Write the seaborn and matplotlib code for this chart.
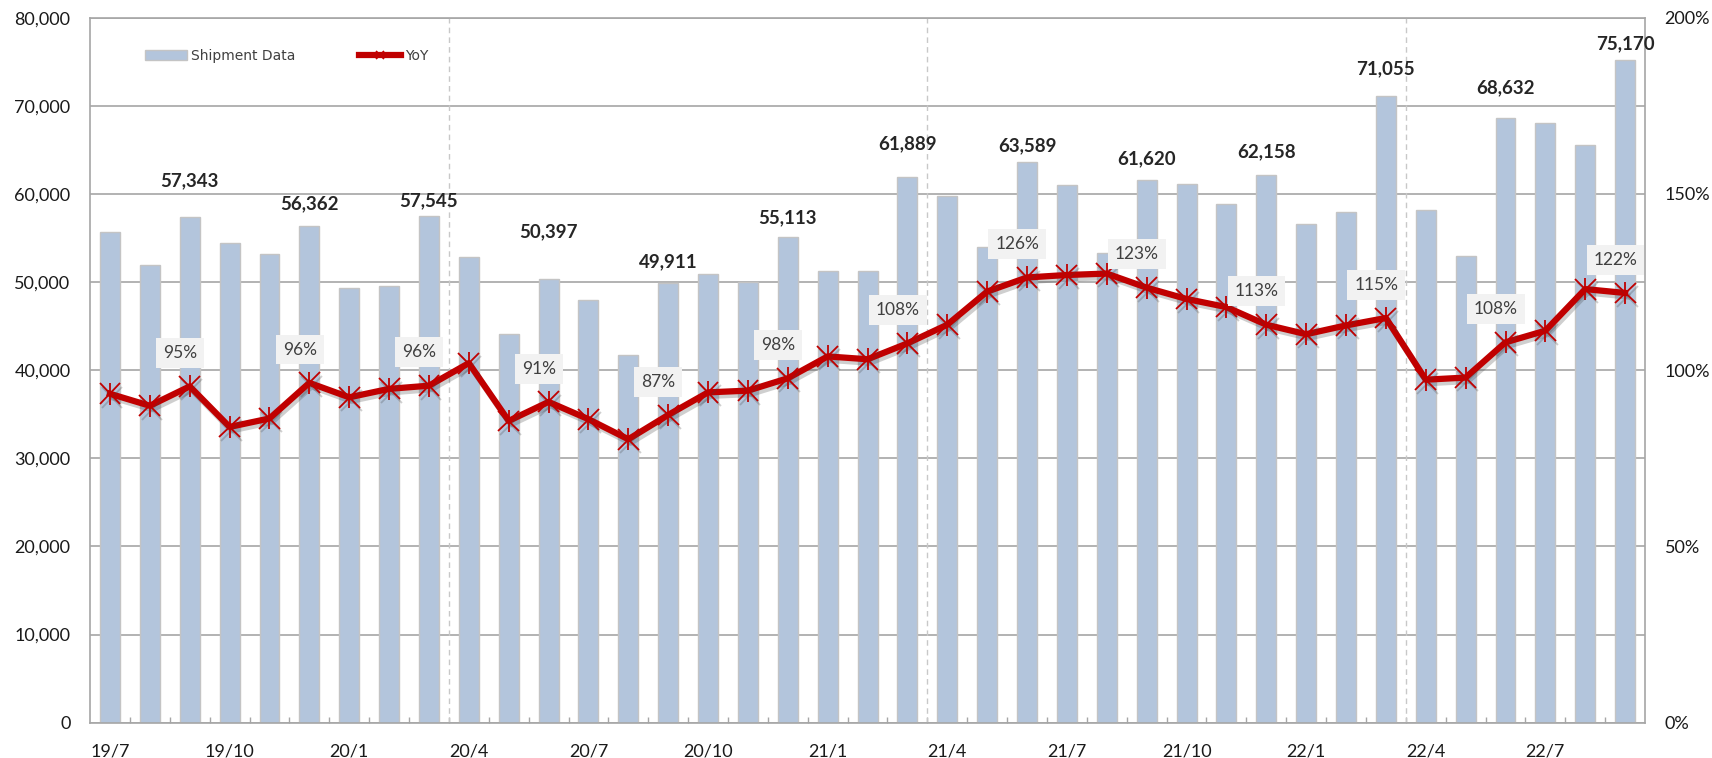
import numpy as np
import pandas as pd
import seaborn as sns
import matplotlib.pyplot as plt
import matplotlib.patheffects as pe
from matplotlib.patches import Patch
from matplotlib.lines import Line2D

# monthly shipments 2019/7 - 2022/9
months = ['19/7', '19/8', '19/9', '19/10', '19/11', '19/12',
          '20/1', '20/2', '20/3', '20/4', '20/5', '20/6',
          '20/7', '20/8', '20/9', '20/10', '20/11', '20/12',
          '21/1', '21/2', '21/3', '21/4', '21/5', '21/6',
          '21/7', '21/8', '21/9', '21/10', '21/11', '21/12',
          '22/1', '22/2', '22/3', '22/4', '22/5', '22/6',
          '22/7', '22/8', '22/9']

shipments = [55700, 51900, 57343, 54430, 53180, 56362,
             49300, 49580, 57545, 52880, 44050, 50397,
             47990, 41740, 49911, 50910, 49960, 55113,
             51290, 51290, 61889, 59730, 53940, 63589,
             61020, 53300, 61620, 61170, 58900, 62158,
             56590, 57990, 71055, 58140, 53000, 68632,
             68000, 65570, 75170]

yoy = [93.3, 89.9, 95.4, 83.9, 86.3, 96.4,
       92.3, 94.7, 95.6, 102.0, 85.6, 91.0,
       86.1, 80.4, 87.3, 93.7, 94.2, 97.7,
       103.9, 103.1, 107.6, 112.9, 122.3, 126.3,
       127.0, 127.4, 123.4, 120.2, 117.9, 112.9,
       110.2, 112.7, 114.8, 97.3, 97.9, 107.9,
       111.2, 123.0, 121.9]

# quarter-end months get labels; vertical gap (pt) above the bar for each
label_gap = [26, 16, 11, 34, 15, 14, 24, 12, 15, 17, 20, 22, 12]

df = pd.DataFrame({'month': months, 'shipments': shipments, 'yoy': yoy})
df['pos'] = np.arange(len(df))
quarter_end = df[df['month'].str.split('/').str[1].astype(int) % 3 == 0]

plt.rcParams['font.family'] = ['Lato', 'DejaVu Sans']

fig = plt.figure(figsize=(17.12, 7.58), dpi=100)
ax = fig.add_axes([0.0526, 0.0466, 0.9083, 0.9301])

sns.barplot(data=df, x='month', y='shipments', ax=ax, color='#b3c5dc',
            width=0.5, saturation=1, edgecolor='#c4c4c4', linewidth=1)

ax.set_xlim(-0.5, len(df) - 0.5)
ax.set_ylim(0, 80000)
ax.set_yticks(np.arange(0, 80001, 10000))
ax.set_yticklabels([f'{v:,.0f}' for v in range(0, 80001, 10000)])
ax.set_xticks(np.arange(0, len(df), 3))
ax.set_xticklabels(months[::3])
ax.set_xticks(np.arange(0.5, len(df) - 1, 1), minor=True)
ax.tick_params(axis='x', which='major', length=0, pad=15, labelsize=13, labelcolor='#1a1a1a')
ax.tick_params(axis='x', which='minor', direction='in', length=4.5, width=1, color='#a6a6a6')
ax.tick_params(axis='y', length=0, pad=14, labelsize=13, labelcolor='#1a1a1a')
ax.set_xlabel('')
ax.set_ylabel('')
ax.grid(axis='y', color='#a6a6a6', linewidth=1.2)
ax.set_axisbelow(True)
for s in ax.spines.values():
    s.set_color('#a6a6a6')
    s.set_linewidth(1.2)

# fiscal year separators
for b in [8.5, 20.5, 32.5]:
    ax.axvline(b, color='#c8c8c8', linestyle=(0, (4, 3)), linewidth=1, zorder=1)

# value labels on quarter-end bars
for (_, r), g in zip(quarter_end.iterrows(), label_gap):
    ax.annotate(f"{r['shipments']:,.0f}", (r['pos'], r['shipments']),
                xytext=(0, g), textcoords='offset points',
                ha='center', va='center', fontsize=13.5, fontweight='bold', color='#262626')

# YoY line on right axis
ax2 = ax.twinx()
sns.lineplot(data=df, x='pos', y='yoy', ax=ax2, color='#c00000', linewidth=4.5,
             marker='x', markersize=15, markeredgewidth=1.3, markeredgecolor='#c00000',
             path_effects=[pe.SimpleLineShadow(offset=(1.5, -2.5), shadow_color='#404040', alpha=0.25),
                           pe.Normal()])
sns.scatterplot(data=df, x='pos', y='yoy', ax=ax2, marker='|', s=230, color='#c00000',
                linewidth=1.3, zorder=5)
ax2.set_ylim(0, 200)
ax2.set_yticks(np.arange(0, 201, 50))
ax2.set_yticklabels([f'{v}%' for v in range(0, 201, 50)])
ax2.tick_params(axis='y', length=0, pad=14, labelsize=13, labelcolor='#1a1a1a')
ax2.set_xlabel('')
ax2.set_ylabel('')
for s in ax2.spines.values():
    s.set_visible(False)

for _, r in quarter_end.iterrows():
    ax2.annotate(f"{r['yoy']:.0f}%", (r['pos'], r['yoy']),
                 xytext=(-7, 24), textcoords='offset points',
                 ha='center', va='center', fontsize=12.5, color='#404040',
                 bbox=dict(boxstyle='square,pad=0.4', fc='#f2f2f2', ec='none'))

handles = [Patch(facecolor='#b3c5dc', edgecolor='#c4c4c4', linewidth=1),
           Line2D([], [], color='#c00000', linewidth=4.5, marker='x', markersize=6,
                  markeredgewidth=1.2)]
ax2.legend(handles, ['Shipment Data', 'YoY'], loc='center left',
           bbox_to_anchor=(0.0355, 0.946), ncol=2, frameon=False,
           prop={'family': 'DejaVu Sans', 'size': 10}, labelcolor='#404040',
           handlelength=3.0, handleheight=0.7, handletextpad=0.3, columnspacing=4.6,
           borderpad=0, borderaxespad=0)

fig.savefig('out.png', dpi=100)
